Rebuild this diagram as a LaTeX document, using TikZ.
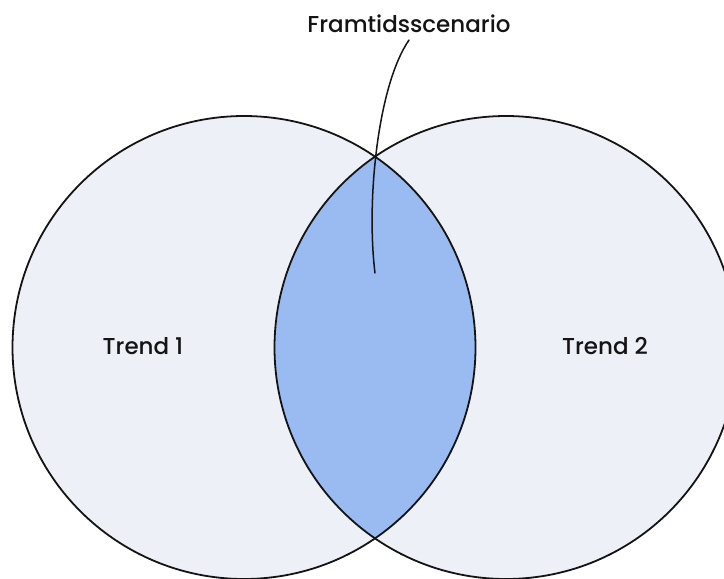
\documentclass[tikz,border=0pt]{standalone}
\usepackage{fontspec}
\setmainfont{Poppins}[UprightFont={* Medium}]
\begin{document}
\begin{tikzpicture}[x=1pt,y=-1pt,
  venn/.style={circle, minimum size=463pt, inner sep=0pt},
  lbl/.style={font=\fontsize{23}{26}\selectfont, text=black!92, inner sep=0pt, anchor=base},
  edge/.style={draw=black!92, line width=1.8pt}]
  \definecolor{pale}{HTML}{EDF0F6}
  \definecolor{overlap}{HTML}{99BBF1}
  \useasboundingbox (0,0) rectangle (724,579);
  \clip (0,0) rectangle (724,579);
  % the two trend circles
  \node[venn, fill=pale] (c1) at (244,347.5) {};
  \node[venn, fill=pale] (c2) at (506,347.5) {};
  % shaded overlap
  \begin{scope}
    \clip (244,347.5) circle (231.5);
    \fill[overlap] (506,347.5) circle (231.5);
  \end{scope}
  \node[venn, edge] at (c1) {};
  \node[venn, edge] at (c2) {};
  % labels
  \node[lbl] (t1) at (143,354) {Trend 1};
  \node[lbl] (t2) at (605,354) {Trend 2};
  \node[lbl, anchor=base] (fs) at (409,32) {Framtidsscenario};
  \coordinate (tip) at (375,273);
  \draw[edge, line width=1.5pt, line cap=round] ([yshift=-8pt]fs.base) .. controls (378,85) and (366,200) .. (tip);
\end{tikzpicture}
\end{document}
